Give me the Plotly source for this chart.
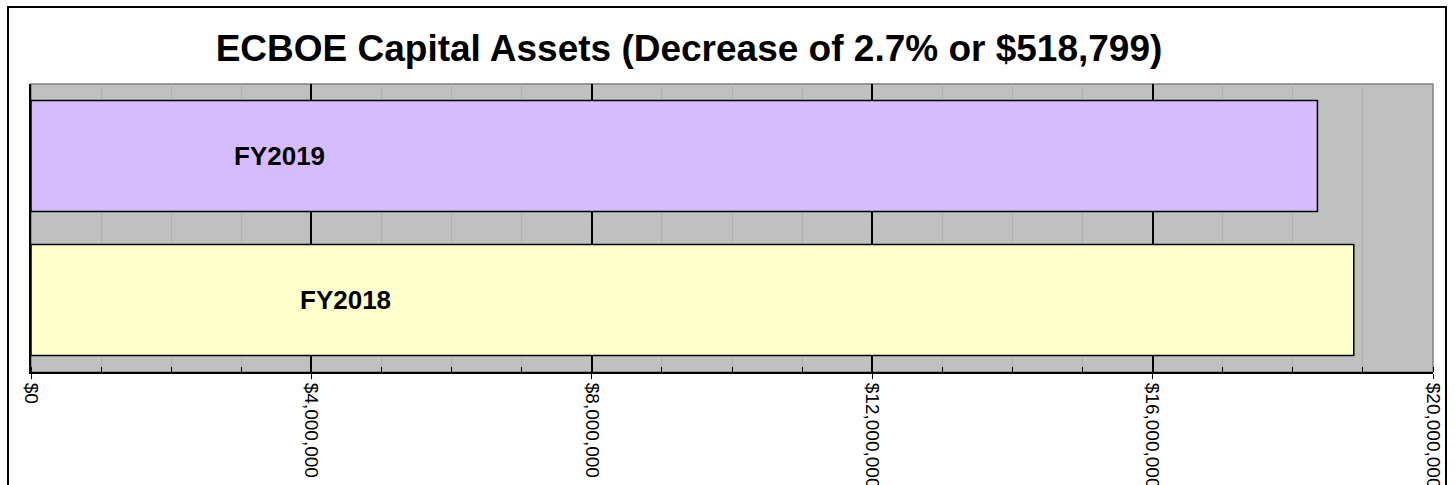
import plotly.graph_objects as go

# Dados
anos = ["FY2018", "FY2019"]
valores = [18870000, 18351201]
cores = ["#FFFFCC", "#D6BCFF"]
ticks_valores = [0, 4000000, 8000000, 12000000, 16000000, 20000000]
ticks_texto = ["$0", "$4,000,000", "$8,000,000", "$12,000,000", "$16,000,000", "$20,000,000"]

W, H = 1455, 485
ml, mr, mt, mb = 31, 22, 84, 113

fig = go.Figure()

fig.add_trace(go.Bar(
    y=anos, x=valores, orientation="h",
    marker=dict(color=cores, line=dict(color="black", width=1.5)),
    showlegend=False, hoverinfo="x+y",
))

# rotulos das barras (nomes das categorias)
for ano, xpos in zip(anos, [4480000, 3550000]):
    fig.add_annotation(x=xpos, y=ano, text="<b>" + ano + "</b>", showarrow=False,
                       font=dict(size=26, color="black", family="Liberation Sans, Arial"))

# moldura externa do grafico
pw, ph = W - ml - mr, H - mt - mb
fig.add_shape(type="rect", xref="paper", yref="paper",
              x0=(8 - ml) / pw, x1=(1446 - ml) / pw,
              y0=-(H - mt + 20 - ph) / ph, y1=1 + (mt - 7) / ph,
              line=dict(color="black", width=2), fillcolor="rgba(0,0,0,0)", layer="above")
# borda cinza da area de plotagem
fig.add_shape(type="rect", xref="paper", yref="paper", x0=0, x1=1, y0=0, y1=1,
              line=dict(color="#808080", width=1.5), fillcolor="rgba(0,0,0,0)", layer="below")

fig.update_layout(
    width=W, height=H,
    margin=dict(l=ml, r=mr, t=mt, b=mb, autoexpand=False),
    paper_bgcolor="white",
    plot_bgcolor="#C0C0C0",
    bargap=0.23,
    title=dict(text="<b>ECBOE Capital Assets (Decrease of 2.7% or $518,799)</b>",
               x=689 / W, xanchor="center", xref="container", y=1 - 48 / H, yanchor="middle",
               font=dict(size=37, color="black", family="Liberation Sans, Arial")),
    font=dict(family="Liberation Sans, Arial", color="black"),
)

fig.update_xaxes(
    range=[0, 20000000],
    tickvals=ticks_valores, ticktext=ticks_texto, tickangle=90,
    tickfont=dict(size=19, color="black"),
    showgrid=True, gridcolor="black", gridwidth=1.5,
    minor=dict(dtick=1000000, showgrid=True, gridcolor="#B0B0B0", gridwidth=1,
               ticks="inside", ticklen=5, tickcolor="black"),
    ticks="outside", ticklen=5, tickcolor="black",
    showline=True, linecolor="black", linewidth=2,
    zeroline=False, fixedrange=True, automargin=False,
)
fig.update_yaxes(
    showticklabels=False, showgrid=False, ticks="",
    showline=True, linecolor="black", linewidth=1.5,
    zeroline=False, fixedrange=True, automargin=False,
)

fig.write_html("out.html", config={"displayModeBar": False},
               post_script="document.body.style.margin='0';")
